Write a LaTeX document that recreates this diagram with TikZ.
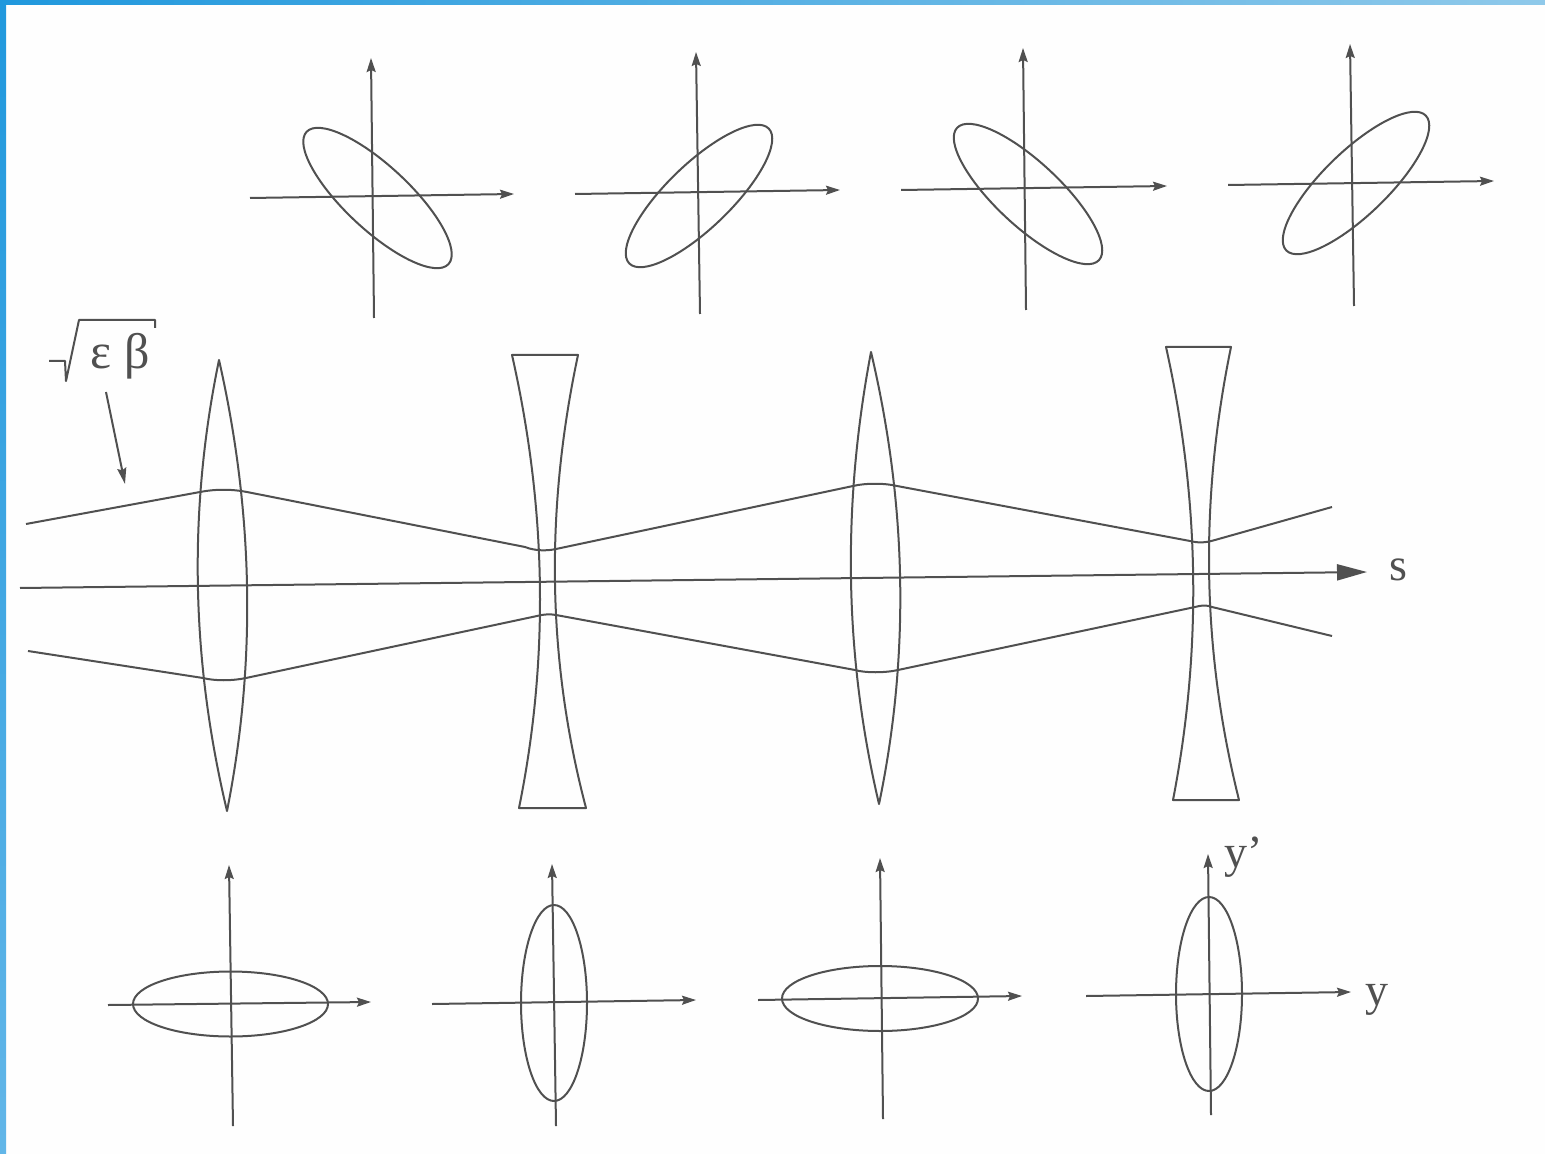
\documentclass[tikz,border=0pt]{standalone}
\usepackage{fontspec}
\setmainfont{Liberation Serif}
\usetikzlibrary{arrows.meta}
\definecolor{ink}{HTML}{505050}
\definecolor{paper}{HTML}{FEFEFE}
\definecolor{bluea}{HTML}{2098DD}
\definecolor{blueb}{HTML}{8FC9EA}
\definecolor{bluec}{HTML}{62B6E8}
\tikzset{
  curve/.style={draw=ink,line width=1pt,line join=round},
  axisline/.style={curve,-{Stealth[length=7pt,width=4.5pt,inset=1pt]}},
  beamaxis/.style={curve,-{Stealth[length=15pt,width=8pt,inset=0pt]}},
  pointer/.style={curve,-{Stealth[length=8pt,width=4.5pt,inset=1pt]}},
  phase/.style={curve},
  lbl/.style={text=ink,inner sep=0pt,font=\fontsize{23}{23}\selectfont}
}
\begin{document}
\begin{tikzpicture}[x=0.5pt,y=-0.5pt]
\useasboundingbox (0,0) rectangle (1545,1154);
\fill[paper] (0,0) rectangle (1545,1154);
\shade[left color=bluea,right color=blueb] (0,0) rectangle (1545,5);
\shade[top color=bluea,bottom color=bluec] (0,0) rectangle (6,1154);

% top phase-space plots
\draw[axisline] (250,198) -- (514,194);
\draw[axisline] (374,318) -- (371,58);
\draw[phase,rotate around={-43:(377.5,198)}] (377.5,198) ellipse [x radius=97,y radius=-32];
\draw[axisline] (575,194) -- (840,190);
\draw[axisline] (700,314) -- (696,52);
\draw[phase,rotate around={44:(699,196)}] (699,196) ellipse [x radius=97,y radius=-32];
\draw[axisline] (901,190) -- (1167,186);
\draw[axisline] (1026,310) -- (1023,48);
\draw[phase,rotate around={-43:(1028,194)}] (1028,194) ellipse [x radius=97,y radius=-32];
\draw[axisline] (1228,185) -- (1494,181);
\draw[axisline] (1354,306) -- (1350,44);
\draw[phase,rotate around={44:(1356,183)}] (1356,183) ellipse [x radius=97,y radius=-32];

% lenses
\draw[curve] (219,360) .. controls (188,510) and (191,660) .. (227,811)
             .. controls (257,660) and (253,510) .. (219,360) -- cycle;
\draw[curve] (512,355) -- (578,355) .. controls (545,510) and (547,660) .. (586,808)
             -- (519,808) .. controls (549,660) and (547,510) .. (512,355) -- cycle;
\draw[curve] (871,352) .. controls (842,505) and (844,655) .. (879,804)
             .. controls (910,655) and (907,505) .. (871,352) -- cycle;
\draw[curve] (1166,347) -- (1231,347) .. controls (1199.5,500) and (1201.5,650) .. (1239,800)
             -- (1173,800) .. controls (1202,650) and (1200,500) .. (1166,347) -- cycle;

% beam envelope
\draw[curve] (26,524) -- (200,492) .. controls (215,489) and (232,489) .. (247,492)
  -- (525,547) .. controls (535,551) and (547,551) .. (556,549)
  -- (853,486) .. controls (865,483) and (885,483) .. (897,486)
  -- (1190,541) .. controls (1198,543) and (1205,543) .. (1215,540) -- (1332,507);
\draw[curve] (28,651) -- (203,678) .. controls (215,681) and (232,681) .. (246,678)
  -- (537,616) .. controls (545,614) and (550,614) .. (556,615)
  -- (855,670) .. controls (865,673) and (885,673) .. (898,670)
  -- (1195,607) .. controls (1202,605) and (1207,605) .. (1212,607) -- (1332,636);
\draw[beamaxis] (20,588) -- (1367,572);
\node[lbl] (s) at (1398,570) {s};

% emittance label
\node[lbl,font=\fontsize{25}{25}\selectfont] (eb) at (120,356) {ε β};
\coordinate (surdA) at (49,361);
\coordinate (surdB) at (65,361);
\coordinate (surdC) at (66,381);
\coordinate (surdD) at (79,320);
\coordinate (surdE) at (155,320);
\coordinate (surdF) at (155,328);
\draw[curve] (surdA) -- (surdB) -- (surdC) -- (surdD) -- (surdE) -- (surdF);
\coordinate (ptrA) at (106,392);
\coordinate (ptrB) at (125,484);
\draw[pointer] (ptrA) -- (ptrB);

% bottom phase-space plots
\draw[axisline] (108,1005) -- (371,1002);
\draw[axisline] (233,1126) -- (229,865);
\draw[phase] (230.5,1004) ellipse [x radius=97.5,y radius=-32.5];
\draw[axisline] (432,1004) -- (696,1000);
\draw[axisline] (556,1126) -- (552,864);
\draw[phase] (554,1003) ellipse [x radius=33,y radius=-98];
\draw[axisline] (758,1000) -- (1022,996);
\draw[axisline] (883,1119) -- (880,858);
\draw[phase] (880,998.5) ellipse [x radius=98,y radius=-32.5];
\draw[axisline] (1086,996) -- (1351,992);
\draw[axisline] (1211,1115) -- (1208,854);
\draw[phase] (1209,994) ellipse [x radius=33,y radius=-97];
\node[lbl] (yp) at (1244,857) {y’};
\node[lbl] (yy) at (1377,1000) {y};
\end{tikzpicture}
\end{document}
